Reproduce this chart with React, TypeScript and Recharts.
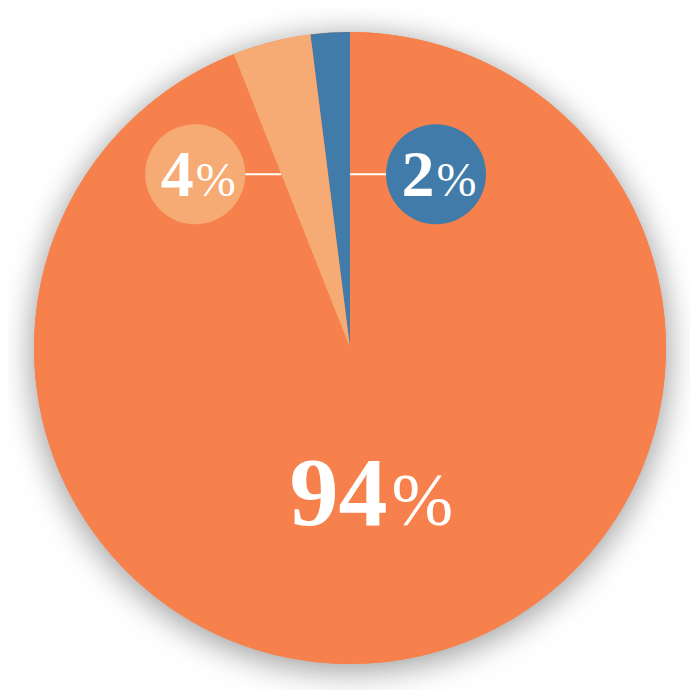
import { PieChart, Pie, Cell } from 'recharts'

const names = ['Blue', 'Light orange', 'Orange']
const values = [2, 4, 94]
const colors = ['#407BAA', '#F7AB74', '#F7814C']

const data = names.map((name, i) => ({ name, value: values[i] }))
const backdrop = [{ name: 'backdrop', value: 1 }]

const RAD = Math.PI / 180
const FONT = 'Liberation Serif, Times New Roman, DejaVu Serif, serif'

function renderLabel(props: any) {
    const { cx, cy, outerRadius, startAngle, endAngle, midAngle, index, value } = props
    if (value >= 10) {
        const r = outerRadius * 0.46
        const x = cx + r * Math.cos(-midAngle * RAD)
        const y = cy + r * Math.sin(-midAngle * RAD)
        return (
            <text x={x - 6} y={y + 34} textAnchor="middle" fill="#fff" style={{ fontFamily: FONT }}>
                <tspan fontSize={98} fontWeight="bold">{value}</tspan>
                <tspan fontSize={74} dx={4}>%</tspan>
            </text>
        )
    }
    // small slices: label bubble off to the side, joined by a short line
    const h = outerRadius * 0.55
    const side = index % 2 === 0 ? 1 : -1
    const a = (side > 0 ? startAngle : endAngle) * RAD
    const ex = cx + (h * Math.cos(a)) / Math.sin(a)
    const ey = cy - h
    const bubbleR = 50
    const bx = ex + side * (36 + bubbleR)
    return (
        <g>
            <line x1={ex} y1={ey} x2={bx - side * bubbleR} y2={ey} stroke="#fff" strokeWidth={2} />
            <circle cx={bx} cy={ey} r={bubbleR} fill={colors[index]} />
            <text x={bx + 3} y={ey + 22} textAnchor="middle" fill="#fff" style={{ fontFamily: FONT }}>
                <tspan fontSize={66} fontWeight="bold">{value}</tspan>
                <tspan fontSize={48} dx={2}>%</tspan>
            </text>
        </g>
    )
}

export default function App() {
    return (
        <div style={{ width: 682, height: 682 }}>
            <style>{`.pie-shadow { filter: drop-shadow(0 5px 16px rgba(0,0,0,0.22)); }`}</style>
            <PieChart width={682} height={682}>
                <Pie
                    className="pie-shadow"
                    data={backdrop}
                    dataKey="value"
                    cx={337}
                    cy={335}
                    outerRadius={316}
                    fill="#F7814C"
                    stroke="none"
                    isAnimationActive={false}
                />
                <Pie
                    data={data}
                    dataKey="value"
                    cx={337}
                    cy={335}
                    outerRadius={316}
                    startAngle={90}
                    endAngle={450}
                    stroke="none"
                    label={renderLabel}
                    labelLine={false}
                    isAnimationActive={false}
                >
                    {data.map((d, i) => (
                        <Cell key={d.name} fill={colors[i]} />
                    ))}
                </Pie>
            </PieChart>
        </div>
    )
}
